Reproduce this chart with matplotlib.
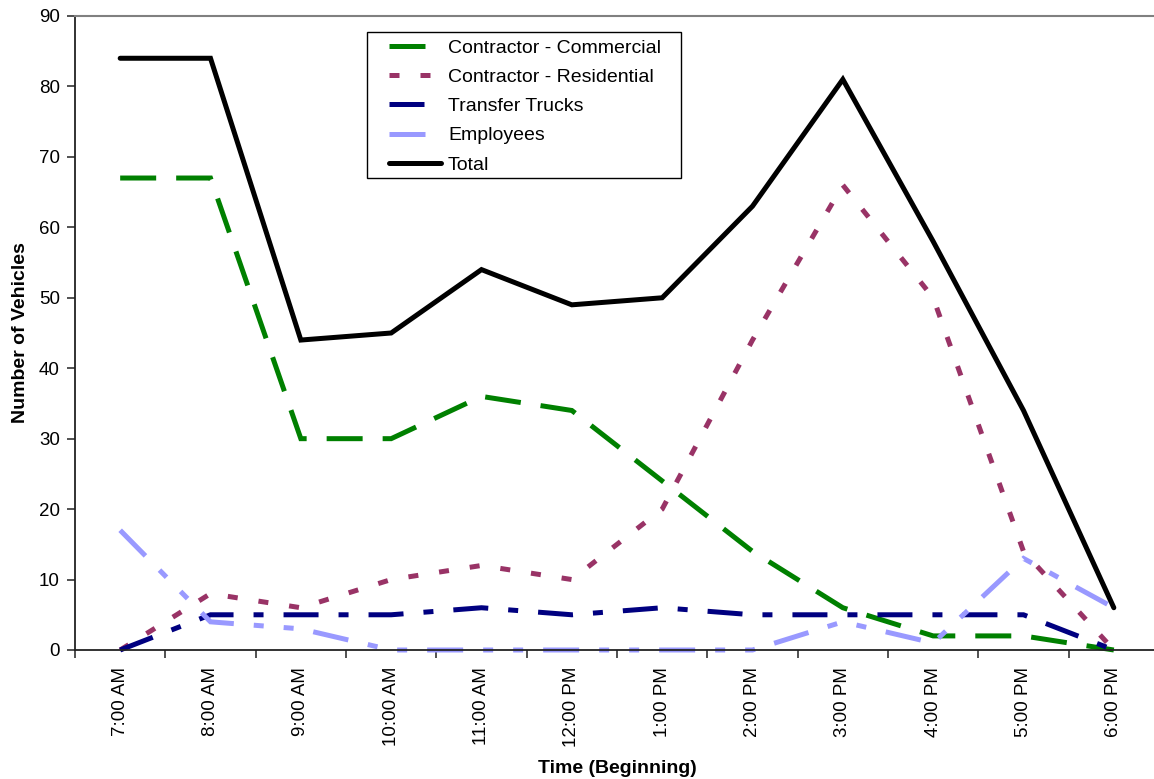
import numpy as np
import matplotlib
matplotlib.use("Agg")
import matplotlib.pyplot as plt
from matplotlib.patches import Rectangle

plt.rcParams['font.family'] = ['Liberation Sans', 'DejaVu Sans']

# Hourly vehicle counts
hours = ["7:00 AM", "8:00 AM", "9:00 AM", "10:00 AM", "11:00 AM", "12:00 PM",
         "1:00 PM", "2:00 PM", "3:00 PM", "4:00 PM", "5:00 PM", "6:00 PM"]
commercial = [67, 67, 30, 30, 36, 34, 24, 14, 6, 2, 2, 0]
residential = [0, 8, 6, 10, 12, 10, 20, 44, 66, 50, 14, 0]
transfer = [0, 5, 5, 5, 6, 5, 6, 5, 5, 5, 5, 0]
employees = [17, 4, 3, 0, 0, 0, 0, 0, 4, 1, 13, 6]
total = [84, 84, 44, 45, 54, 49, 50, 63, 81, 58, 34, 6]

W, H = 1154, 779
fig = plt.figure(figsize=(W / 100, H / 100), dpi=100)
ax = fig.add_axes([75 / W, (H - 650) / H, (1159 - 75) / W, (650 - 16) / H])

x = np.arange(len(hours))
lw = 3.6
series = [
    (commercial, "Contractor - Commercial", "#008000", (0, (7.2, 4.0))),
    (residential, "Contractor - Residential", "#993366", (0, (2.0, 4.2))),
    (transfer, "Transfer Trucks", "#000080", (0, (7.0, 4.0, 2.0, 4.0))),
    (employees, "Employees", "#9999FF", (0, (7.2, 4.0, 2.0, 4.0, 2.0, 4.0))),
]
handles = []
for vals, name, color, ls in series:
    ln, = ax.plot(x, vals, color=color, lw=lw, linestyle=ls, label=name,
                  dash_capstyle='butt', dash_joinstyle='miter', clip_on=False)
    handles.append(ln)
ln, = ax.plot(x, total, color="black", lw=lw, label="Total",
              solid_capstyle='round', solid_joinstyle='miter', clip_on=False)
handles.append(ln)

ax.set_xlim(-0.5, len(hours) - 0.5)
ax.set_ylim(0, 90)
ax.set_yticks(np.arange(0, 91, 10))
ax.set_xticks(x)
ax.set_xticklabels(hours, rotation=90, fontsize=13.5)
ax.set_xticks(np.arange(-0.5, len(hours), 1.0), minor=True)
ax.tick_params(axis='x', which='major', length=0, pad=12)
ax.tick_params(axis='x', which='minor', length=6, width=1.2, direction='out', color='#333333')
ax.tick_params(axis='y', length=6, width=1.2, direction='out', pad=5, labelsize=13.5, color='#333333')

for side in ('left', 'bottom'):
    ax.spines[side].set_color('#222222')
    ax.spines[side].set_linewidth(1.3)
for side in ('top', 'right'):
    ax.spines[side].set_color('#808080')
    ax.spines[side].set_linewidth(1.5)

ax.set_ylabel("Number of Vehicles", fontsize=14, fontweight='bold', labelpad=7)
ax.set_xlabel("Time (Beginning)", fontsize=14, fontweight='bold', labelpad=9)

fig.legend(handles=handles, loc='upper left',
           bbox_to_anchor=(389 / W, 1 - 39 / H), bbox_transform=fig.transFigure,
           frameon=False, fontsize=14, handlelength=2.68, handletextpad=0.36,
           labelspacing=0.6, borderpad=0, borderaxespad=0)
fig.add_artist(Rectangle((367 / W, 1 - 178 / H), (681 - 367) / W, (178 - 32) / H,
                         transform=fig.transFigure, fill=False,
                         edgecolor='black', linewidth=1.0))

fig.savefig("out.png", dpi=100)
